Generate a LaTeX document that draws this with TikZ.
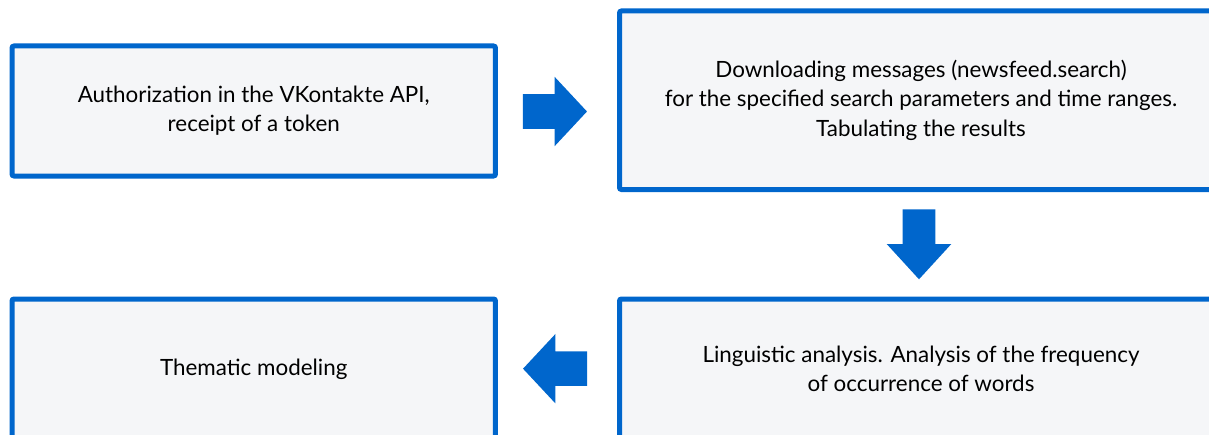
\documentclass[tikz,border=0pt]{standalone}
\usepackage{fontspec}
\setmainfont{Lato}
\usetikzlibrary{shapes.arrows}
\definecolor{stepblue}{HTML}{0066CC}
\definecolor{stepfill}{HTML}{F5F6F8}
\tikzset{
  stepbox/.style={draw=stepblue, fill=stepfill, line width=3.75pt, rounded corners=1.5pt,
    align=center, inner sep=0pt, font=\fontsize{16.8}{22}\selectfont},
  blockarrow/.style={single arrow, fill=stepblue, draw=none, inner sep=0pt,
    text height=25.5pt, text depth=0pt, minimum height=48pt,
    single arrow head extend=13.1pt, single arrow tip angle=94, anchor=tail}
}
\begin{document}
\begin{tikzpicture}[x=0.75pt,y=0.75pt,yscale=-1]
        \useasboundingbox (0,0) rectangle (1209,435);
        \clip (0,0) rectangle (1209,435);

        % Step boxes
        \node [stepbox, minimum width=362.6pt, minimum height=97.5pt] (auth) at (253.75,111) {Authorization in the VKontakte API,\\receipt of a token};
        \node [stepbox, minimum width=452.25pt, minimum height=133.9pt] (download) at (921,100.25) {Downloading messages (newsfeed.search)\\for the specified search parameters and time ranges.\\Tabulating the results};
        \node [stepbox, minimum width=452.25pt, minimum height=105pt] (linguistic) at (921,369) {Linguistic analysis. Analysis of the frequency\\of occurrence of words};
        \node [stepbox, minimum width=362.6pt, minimum height=105pt] (thematic) at (253.75,369) {Thematic modeling};

        % Block arrows
        \node [blockarrow] (a1) at (522.7,111.5) {};
        \node [blockarrow, rotate=-90, text height=24pt, minimum height=52.5pt,
          single arrow head extend=12pt, single arrow tip angle=85] (a2) at (919,209) {};
        \node [blockarrow, rotate=180] (a3) at (587.3,368.7) {};

\end{tikzpicture}
\end{document}
